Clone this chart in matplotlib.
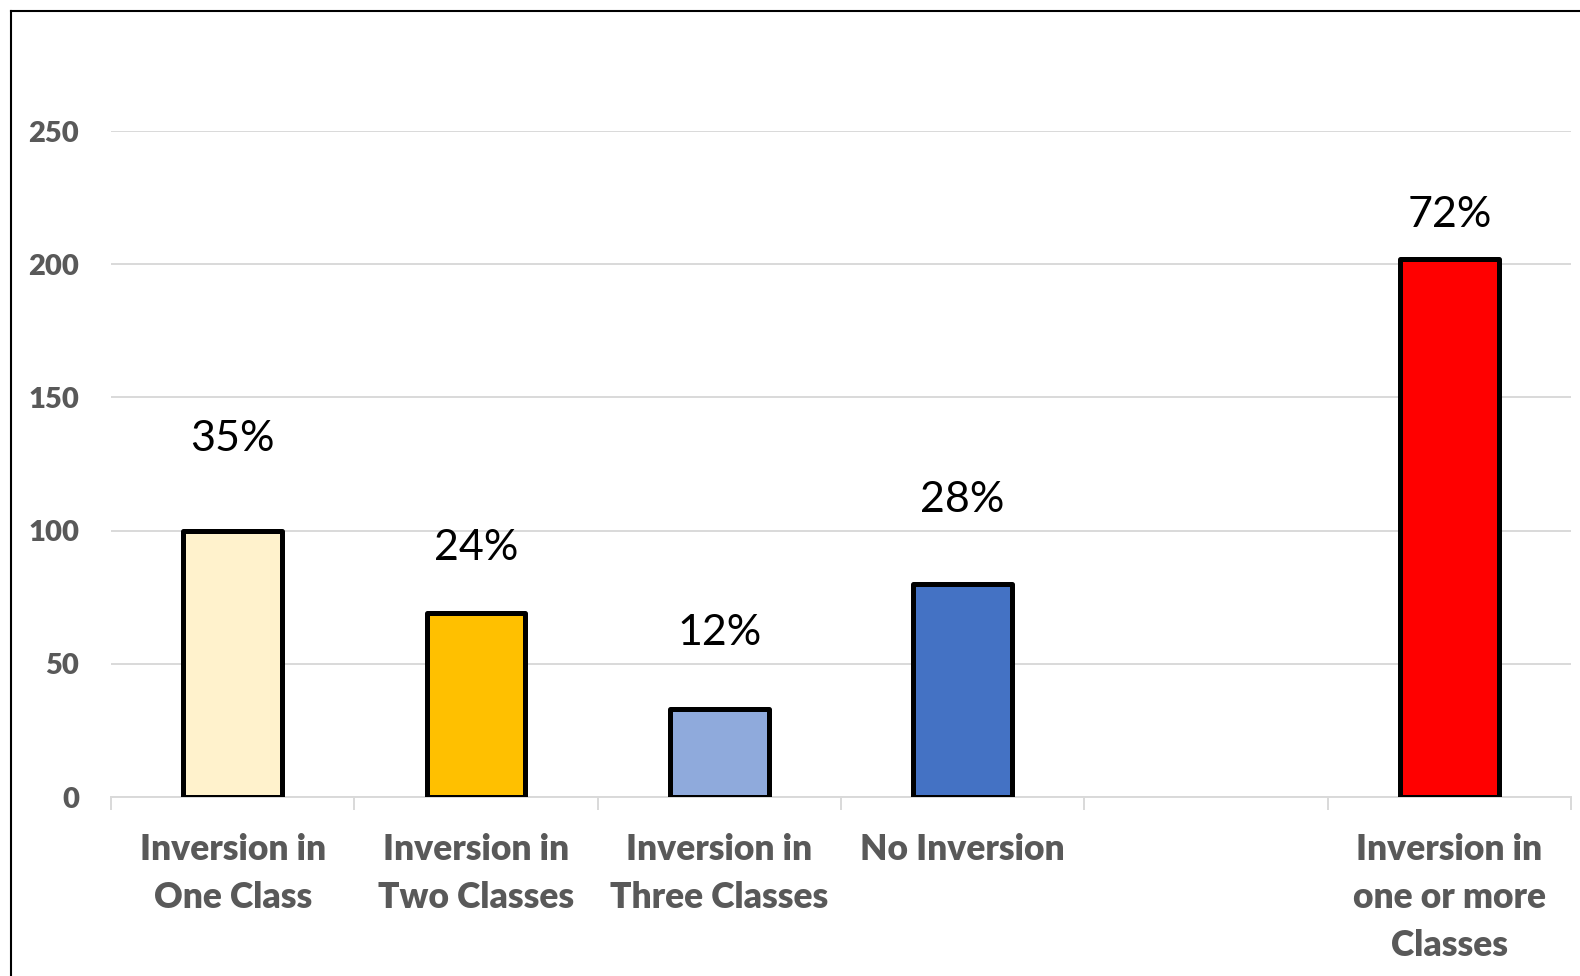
import matplotlib
matplotlib.use("Agg")
import matplotlib.pyplot as plt
from matplotlib.lines import Line2D

plt.rcParams["font.family"] = ["Lato", "DejaVu Sans"]

# Categories (the fifth slot is an intentional spacer)
categories = ["Inversion in\nOne Class", "Inversion in\nTwo Classes",
              "Inversion in\nThree Classes", "No Inversion", "",
              "Inversion in\none or more\nClasses"]
counts = [100, 69, 33, 80, None, 202]
shares = ["35%", "24%", "12%", "28%", "", "72%"]
bar_colors = ["#FFF2CC", "#FFC000", "#8FAADC", "#4472C4", None, "#FF0000"]
# vertical gap (data units) between each bar top and its share label
label_gaps = [34.5, 24.5, 28.5, 31.5, None, 16.5]

W, H = 1580, 976
fig = plt.figure(figsize=(W / 100, H / 100), dpi=100)
ax = fig.add_axes([111 / W, 1 - 797 / H, 1460 / W, (797 - 131) / H])

xs = list(range(len(categories)))
for x, v, c in zip(xs, counts, bar_colors):
    if v is None:
        continue
    ax.bar(x, v, width=0.405, color=c, edgecolor="black", linewidth=3.6,
           joinstyle="round", zorder=3)

for x, v, s, g in zip(xs, counts, shares, label_gaps):
    if v is None:
        continue
    ax.text(x, v + g, s, ha="center", va="center", fontsize=31,
            color="black", zorder=4)

ax.set_xlim(-0.5, len(categories) - 0.5)
ax.set_ylim(0, 250)
ax.set_yticks([0, 50, 100, 150, 200, 250])
ax.yaxis.grid(True, color="#D9D9D9", linewidth=1.4, zorder=0)
ax.set_axisbelow(True)

for side in ("top", "right", "left"):
    ax.spines[side].set_visible(False)
ax.spines["bottom"].set_color("#D9D9D9")
ax.spines["bottom"].set_linewidth(1.4)
ax.spines["bottom"].set_zorder(2)

ax.tick_params(axis="y", length=0, pad=23, labelsize=21, labelcolor="#595959")
for lbl in ax.get_yticklabels():
    lbl.set_fontweight("heavy")

ax.set_xticks(xs)
ax.set_xticklabels(categories, fontsize=25.5, fontweight="heavy", color="#595959",
                   linespacing=1.55)
ax.tick_params(axis="x", which="major", length=0, pad=26)
ax.set_xticks([i - 0.5 for i in range(len(categories) + 1)], minor=True)
ax.tick_params(axis="x", which="minor", length=9, width=1.4, color="#D9D9D9")

# outer frame (left and top edges)
fig.add_artist(Line2D([11 / W, 11 / W], [0, 1 - 11 / H], color="black",
                      linewidth=1.5, transform=fig.transFigure))
fig.add_artist(Line2D([11 / W, 1], [1 - 11 / H, 1 - 11 / H], color="black",
                      linewidth=1.5, transform=fig.transFigure))

fig.savefig("out.png", dpi=100, facecolor="white")
